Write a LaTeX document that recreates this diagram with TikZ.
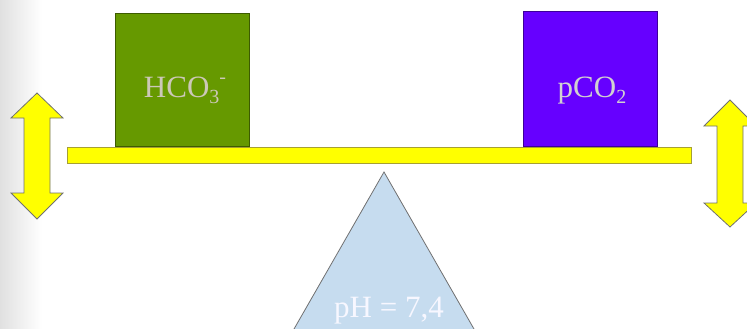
\documentclass[tikz,border=0pt]{standalone}
\usepackage{fontspec}
\setmainfont{Liberation Serif}
\definecolor{beamyellow}{HTML}{FFFF00}
\definecolor{beamedge}{HTML}{A6A033}
\definecolor{boxgreen}{HTML}{669900}
\definecolor{boxpurple}{HTML}{6600FF}
\definecolor{trifill}{HTML}{C6DCEF}
\definecolor{labelgrey}{HTML}{CCC8B8}
\definecolor{edgegrey}{HTML}{707070}
\newcommand\mylow[1]{\raisebox{-0.22em}{\fontsize{20}{20}\selectfont #1}}
\newcommand\myhigh[1]{\raisebox{0.42em}{\fontsize{20}{20}\selectfont #1}}
\tikzset{
  weight/.style={draw=#1!60!black, line width=0.8pt, inner sep=0pt, minimum width=134pt},
  lbl/.style={anchor=base, inner sep=0pt, font=\fontsize{31}{33}\selectfont},
  dblarrow/.style={fill=beamyellow, draw=edgegrey, line width=0.8pt, line join=miter},
}
\begin{document}
\begin{tikzpicture}[x=1pt,y=-1pt]
\useasboundingbox (0,0) rectangle (747,329);
% left page shading
\shade[left color=black!12, right color=white] (0,0) rectangle (42,329);
% fulcrum
\begin{scope}
\clip (0,0) rectangle (747,329);
\draw[fill=trifill, draw=edgegrey, line width=0.8pt] (384,172) -- (480.3,340) -- (287.7,340) -- cycle;
\end{scope}
\node[lbl, text=white!97!blue] (ph) at (389,317) {pH = 7,4};
% beam
\node[fill=beamyellow, draw=beamedge, line width=0.8pt, minimum width=624pt, minimum height=16pt, inner sep=0pt] (beam) at (379,155) {};
% weights
\node[weight=boxgreen, fill=boxgreen, minimum height=133pt] (hco) at (182,79.5) {};
\node[weight=boxpurple, fill=boxpurple, minimum height=135pt] (pco) at (590,78.5) {};
\node[lbl, text=labelgrey] (hcotxt) at (185,97) {HCO\mylow{3}\myhigh{-}};
\node[lbl, text=black!18] (pcotxt) at (592,97) {pCO\mylow{2}};
% double arrows
\draw[dblarrow] (37,93) -- (63,118) -- (50,118) -- (50,193) -- (63,193) -- (37,219) -- (11,193) -- (24,193) -- (24,118) -- (11,118) -- cycle;
\begin{scope}
\clip (0,0) rectangle (747,329);
\draw[dblarrow] (730,100) -- (756,126) -- (743,126) -- (743,203) -- (756,203) -- (730,227) -- (704,203) -- (717,203) -- (717,126) -- (704,126) -- cycle;
\end{scope}
\end{tikzpicture}
\end{document}
